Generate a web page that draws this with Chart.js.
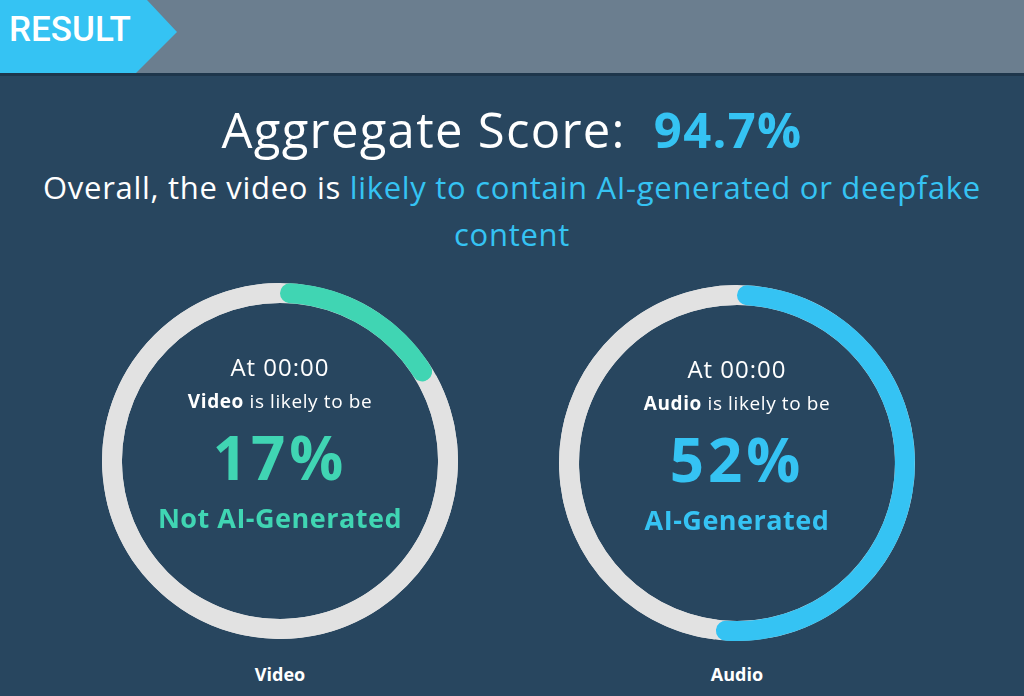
<!DOCTYPE html>
<html>
<head>
<meta charset="utf-8">
<script src="https://cdn.jsdelivr.net/npm/chart.js@4.4.1/dist/chart.umd.min.js"></script>
<style>
  body { margin:0; width:1024px; height:696px; overflow:hidden; background:#28465f; font-family:"Open Sans", Lato, sans-serif; position:relative; }
  .topbar { position:absolute; left:0; top:0; width:1024px; height:73px; background:#6b7e8f; }
  .stripe { position:absolute; left:0; top:73px; width:1024px; height:3px; background:#1e364b; }
  .tag { position:absolute; left:0; top:0; width:178px; height:73px; background:#35c3f3;
         clip-path:polygon(0 0, 147px 0, 177px 32px, 136px 73px, 0 73px); }
  .tag span { position:absolute; left:9px; top:10px; color:#fff; font:500 35px Roboto, sans-serif; line-height:40px; }
  .t { position:absolute; left:0; width:1024px; text-align:center; color:#fff; white-space:nowrap; line-height:1; }
  .blue { color:#35c3f3; }
  .ring { position:absolute; width:380px; height:380px; }
  .inner { position:absolute; width:380px; height:380px; color:#fff; white-space:nowrap; }
  .inner div { position:absolute; left:0; width:380px; text-align:center; line-height:1; }
</style>
</head>
<body>
<div class="topbar"></div>
<div class="stripe"></div>
<div class="tag"><span>RESULT</span></div>

<div class="t" style="top:105px;font-size:49px;font-weight:500;letter-spacing:1.3px;">Aggregate Score:&nbsp; <span class="blue" style="font-weight:700;">94.7%</span></div>
<div class="t" style="top:172px;font-size:31px;font-weight:500;letter-spacing:0.7px;">Overall, the video is <span class="blue">likely to contain AI-generated or deepfake</span></div>
<div class="t blue" style="top:219px;font-size:31px;font-weight:500;letter-spacing:0.7px;">content</div>

<div class="ring" style="left:90px;top:271px;"><canvas id="video_chart" width="380" height="380"></canvas></div>
<div class="ring" style="left:547px;top:273px;"><canvas id="audio_chart" width="380" height="380"></canvas></div>

<div id="video_text" class="inner" style="left:90px;top:271px;"></div>
<div id="audio_text" class="inner" style="left:547px;top:273px;"></div>

<div class="t" style="left:-232px;top:665px;font-size:18px;font-weight:700;">Video</div>
<div class="t" style="left:225px;top:665px;font-size:18px;font-weight:700;">Audio</div>

<script>
var ring_labels = ["Likely", "Remaining"];
var video_values = [17, 83];
var audio_values = [52, 48];
var video_verdict = "Not AI-Generated";
var audio_verdict = "AI-Generated";
var time_label = "At 00:00";

var green = "#40d5b3";
var blue = "#35c3f3";
var grey = "#e2e2e2";

// full grey track behind the arcs so the rounded ends sit on grey
var track_plugin = {
	id: "track",
	beforeDatasetsDraw: function(chart){
		var arc = chart.getDatasetMeta(0).data[0];
		if(!arc) return;
		var ctx = chart.ctx;
		ctx.save();
		ctx.beginPath();
		ctx.arc(arc.x, arc.y, arc.outerRadius, 0, Math.PI * 2);
		ctx.arc(arc.x, arc.y, arc.innerRadius, 0, Math.PI * 2, true);
		ctx.fillStyle = grey;
		ctx.fill();
		ctx.restore();
	}
};

function make_ring(canvas_id, values, color){
	return new Chart(document.getElementById(canvas_id), {
		type: 'doughnut',
		data: {
			labels: ring_labels,
			datasets: [{
				data: values,
				backgroundColor: [color, grey],
				borderWidth: 0,
				borderRadius: function(c){
					return c.dataIndex === 0 ? 10 : 0;
				}
			}]
		},
		options: {
			responsive: false,
			animation: false,
			radius: 178,
			cutout: '88.8%',
			layout: { padding: 0 },
			plugins: { legend: { display:false }, tooltip: { enabled:false } }
		},
		plugins: [track_plugin]
	});
}

function fill_text(id, kind, value, verdict, color){
	document.getElementById(id).innerHTML =
		'<div style="top:84px;font-size:24px;font-weight:500;letter-spacing:1px;">' + time_label + '</div>' +
		'<div style="top:121px;font-size:19px;letter-spacing:0.6px;"><b>' + kind + '</b> is likely to be</div>' +
		'<div style="top:156px;font-size:60px;font-weight:700;letter-spacing:4px;color:' + color + ';">' + value + '%</div>' +
		'<div style="top:233px;font-size:27px;font-weight:700;letter-spacing:0.5px;color:' + color + ';">' + verdict + '</div>';
}

make_ring("video_chart", video_values, green);
make_ring("audio_chart", audio_values, blue);
fill_text("video_text", "Video", video_values[0], video_verdict, green);
fill_text("audio_text", "Audio", audio_values[0], audio_verdict, blue);
</script>
</body>
</html>
